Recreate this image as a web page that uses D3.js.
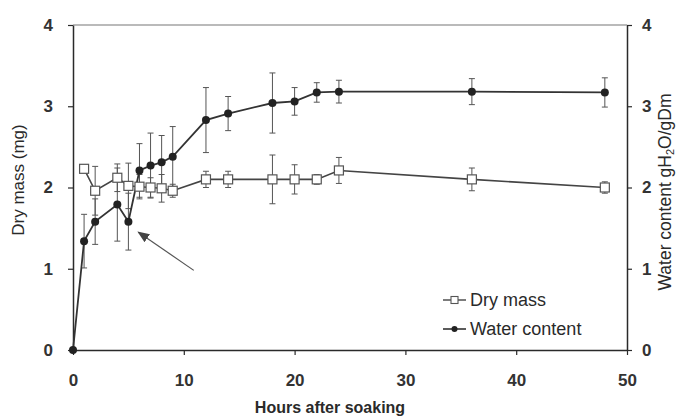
<!DOCTYPE html>
<html>
<head>
<meta charset="utf-8">
<script src="https://cdn.jsdelivr.net/npm/d3@7"></script>
<style>
  body { margin: 0; background: #fff; }
  text { font-family: "Liberation Sans", Arial, sans-serif; fill: #2a2a2a; }
</style>
</head>
<body>
<svg id="chart" width="680" height="420"></svg>
<script>
// hours after soaking
const hours_water = [0, 1, 2, 4, 5, 6, 7, 8, 9, 12, 14, 18, 20, 22, 24, 36, 48];
const water_content = [0, 1.34, 1.58, 1.79, 1.58, 2.21, 2.27, 2.31, 2.38, 2.83, 2.91, 3.04, 3.06, 3.17, 3.18, 3.18, 3.17];
const water_err = [0, 0.33, 0.28, 0.45, 0.35, 0.33, 0.4, 0.33, 0.37, 0.4, 0.21, 0.37, 0.17, 0.12, 0.14, 0.16, 0.18];

const hours_dry = [1, 2, 4, 5, 6, 7, 8, 9, 12, 14, 18, 20, 22, 24, 36, 48];
const dry_mass = [2.23, 1.96, 2.12, 2.02, 2.01, 2.0, 1.99, 1.96, 2.1, 2.1, 2.1, 2.1, 2.1, 2.21, 2.1, 2.0];
const dry_err = [0.03, 0.3, 0.17, 0.28, 0.15, 0.12, 0.17, 0.08, 0.1, 0.1, 0.3, 0.18, 0.06, 0.16, 0.14, 0.07];

const x_ticks = [0, 10, 20, 30, 40, 50];
const y_ticks = [0, 1, 2, 3, 4];

const margin = {top: 25, right: 53, bottom: 70, left: 73},
    width = 680 - margin.left - margin.right,
    height = 420 - margin.top - margin.bottom;

const svg = d3.select("#chart")
    .append("g")
    .attr("transform", "translate(" + margin.left + "," + margin.top + ")");

const xScale = d3.scaleLinear().domain([0, 50]).range([0, width]);
const yScale = d3.scaleLinear().domain([0, 4]).range([height, 0]);
const yScale2 = d3.scaleLinear().domain([0, 4]).range([height, 0]);

const ink = "#2a2a2a";

// frame line on top
svg.append("line")
    .attr("x1", 0).attr("x2", width)
    .attr("y1", 0).attr("y2", 0)
    .attr("stroke", "#777").attr("stroke-width", 1.2);

function styleAxis(g) {
    g.selectAll("path").attr("stroke", ink).attr("stroke-width", 1.5);
    g.selectAll("line").attr("stroke", ink).attr("stroke-width", 1.2);
    g.selectAll("text").attr("font-size", 17).attr("font-weight", "bold").style("fill", "#333");
}

svg.append("g")
    .attr("transform", "translate(0," + height + ")")
    .call(d3.axisBottom(xScale).tickValues(x_ticks).tickFormat(d3.format("d")).tickSize(5).tickSizeOuter(0).tickPadding(19))
    .call(styleAxis);

svg.append("g")
    .call(d3.axisLeft(yScale).tickValues(y_ticks).tickFormat(d3.format("d")).tickSize(5).tickSizeOuter(0).tickPadding(15))
    .call(styleAxis);

svg.append("g")
    .attr("transform", "translate(" + width + ",0)")
    .call(d3.axisRight(yScale2).tickValues(y_ticks).tickFormat(d3.format("d")).tickSize(5).tickSizeOuter(0).tickPadding(10))
    .call(styleAxis);

// axis titles
svg.append("text")
    .attr("x", 257)
    .attr("y", height + 63)
    .attr("text-anchor", "middle")
    .attr("font-size", 16)
    .attr("font-weight", "bold")
    .text("Hours after soaking");

svg.append("text")
    .attr("transform", "translate(" + (-49) + "," + 155 + ") rotate(-90)")
    .attr("text-anchor", "middle")
    .attr("font-size", 17)
    .text("Dry mass (mg)");

const rightTitle = svg.append("text")
    .attr("transform", "translate(" + (width + 44) + "," + 167 + ") rotate(-90)")
    .attr("text-anchor", "middle")
    .attr("font-size", 17.5);
rightTitle.append("tspan").text("Water content gH");
rightTitle.append("tspan").attr("font-size", 11).attr("dy", 3).text("2");
rightTitle.append("tspan").attr("dy", -3).text("O/gDm");

// data rows
const water = hours_water.map((h, i) => ({h: h, v: water_content[i], e: water_err[i]}));
const dry = hours_dry.map((h, i) => ({h: h, v: dry_mass[i], e: dry_err[i]}));

function errorBars(data, cls, scale) {
    const g = svg.append("g").attr("class", cls);
    const cap = 3;
    data.filter(d => d.e > 0).forEach(d => {
        const x = xScale(d.h);
        g.append("line")
            .attr("x1", x).attr("x2", x)
            .attr("y1", scale(d.v - d.e)).attr("y2", scale(d.v + d.e))
            .attr("stroke", "#555").attr("stroke-width", 1);
        [d.v - d.e, d.v + d.e].forEach(v => {
            g.append("line")
                .attr("x1", x - cap).attr("x2", x + cap)
                .attr("y1", scale(v)).attr("y2", scale(v))
                .attr("stroke", "#555").attr("stroke-width", 1);
        });
    });
}

errorBars(dry, "dry-err", yScale);
errorBars(water, "water-err", yScale2);

const lineDry = d3.line().x(d => xScale(d.h)).y(d => yScale(d.v));
const lineWater = d3.line().x(d => xScale(d.h)).y(d => yScale2(d.v));

svg.append("path")
    .datum(dry)
    .attr("d", lineDry)
    .attr("fill", "none")
    .attr("stroke", "#444")
    .attr("stroke-width", 1.6);

svg.append("path")
    .datum(water)
    .attr("d", lineWater)
    .attr("fill", "none")
    .attr("stroke", "#333")
    .attr("stroke-width", 1.8);

svg.selectAll(".dry-pt")
    .data(dry)
    .enter().append("rect")
    .attr("class", "dry-pt")
    .attr("x", d => xScale(d.h) - 4.5)
    .attr("y", d => yScale(d.v) - 4.5)
    .attr("width", 9)
    .attr("height", 9)
    .attr("fill", "#fff")
    .attr("stroke", "#555")
    .attr("stroke-width", 1.2);

svg.selectAll(".water-pt")
    .data(water)
    .enter().append("circle")
    .attr("class", "water-pt")
    .attr("cx", d => xScale(d.h))
    .attr("cy", d => yScale2(d.v))
    .attr("r", 4)
    .attr("fill", "#222");

// arrow pointing at the dip
svg.append("defs").append("marker")
    .attr("id", "head")
    .attr("viewBox", "0 0 10 10")
    .attr("refX", 9).attr("refY", 5)
    .attr("markerWidth", 10).attr("markerHeight", 10)
    .attr("orient", "auto")
    .append("path")
    .attr("d", "M0,1 L10,5 L0,9 Z")
    .attr("fill", "#444");

svg.append("line")
    .attr("x1", xScale(10.9)).attr("y1", yScale(0.98))
    .attr("x2", xScale(5.9)).attr("y2", yScale(1.45))
    .attr("stroke", "#555")
    .attr("stroke-width", 1.2)
    .attr("marker-end", "url(#head)");

// legend
const legend = svg.append("g")
    .attr("transform", "translate(" + 370 + "," + 275 + ")");

legend.append("line").attr("x1", 0).attr("x2", 23).attr("y1", 0).attr("y2", 0)
    .attr("stroke", "#444").attr("stroke-width", 1.4);
legend.append("rect").attr("x", 8).attr("y", -3.5).attr("width", 7).attr("height", 7)
    .attr("fill", "#fff").attr("stroke", "#555").attr("stroke-width", 1.1);
legend.append("text").attr("x", 27).attr("y", 6).attr("font-size", 18).text("Dry mass");

legend.append("line").attr("x1", 0).attr("x2", 23).attr("y1", 29).attr("y2", 29)
    .attr("stroke", "#333").attr("stroke-width", 1.6);
legend.append("circle").attr("cx", 11.5).attr("cy", 29).attr("r", 3).attr("fill", "#222");
legend.append("text").attr("x", 27).attr("y", 35).attr("font-size", 18).text("Water content");
</script>
</body>
</html>
